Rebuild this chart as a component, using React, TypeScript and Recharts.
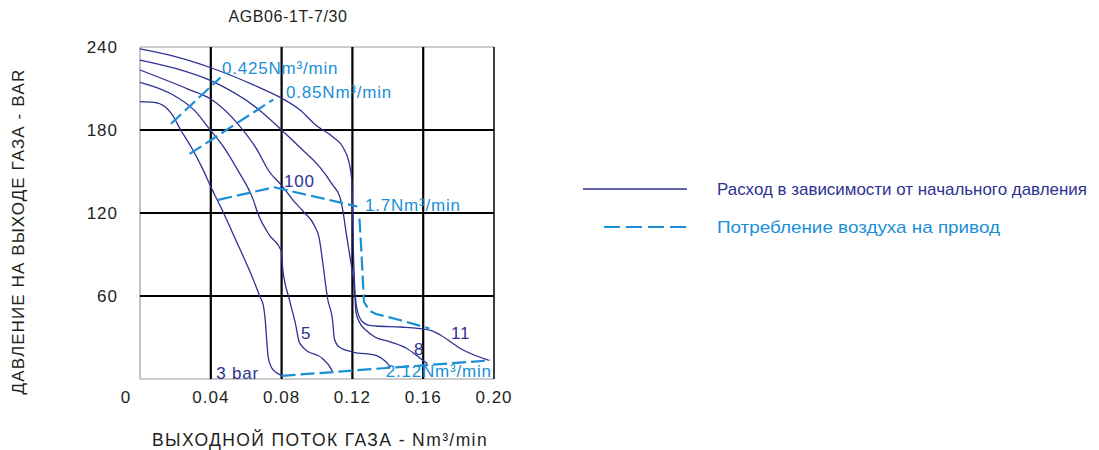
import React from "react";
import { LineChart, Line, XAxis, YAxis, ReferenceLine, ReferenceDot, Legend } from "recharts";

// inlet pressure curves (flow Nm3/min, outlet pressure bar)
const curve3 = [
  { x: 0, y: 200.5 }, { x: 0.008, y: 200 }, { x: 0.014, y: 197 }, { x: 0.018, y: 191.5 },
  { x: 0.023, y: 180 }, { x: 0.029, y: 167.5 }, { x: 0.035, y: 153 }, { x: 0.04, y: 139 },
  { x: 0.047, y: 120.5 }, { x: 0.055, y: 98 }, { x: 0.062, y: 78 }, { x: 0.0678, y: 59.5 },
  { x: 0.0697, y: 53 }, { x: 0.0708, y: 42 }, { x: 0.0716, y: 28 }, { x: 0.0724, y: 16 },
  { x: 0.0742, y: 8.5 }, { x: 0.0768, y: 4.8 }, { x: 0.0795, y: 2.8 }, { x: 0.082, y: 2.3 },
];
const curve5 = [
  { x: 0, y: 214.5 }, { x: 0.0177, y: 206 }, { x: 0.0309, y: 194 }, { x: 0.04, y: 179.5 },
  { x: 0.046, y: 170 }, { x: 0.0554, y: 150.6 }, { x: 0.064, y: 129.5 }, { x: 0.0665, y: 120 },
  { x: 0.0731, y: 104 }, { x: 0.0797, y: 93 }, { x: 0.0806, y: 80 }, { x: 0.0843, y: 58 },
  { x: 0.088, y: 39 }, { x: 0.0899, y: 27 }, { x: 0.0928, y: 22 }, { x: 0.1032, y: 14.7 },
  { x: 0.1079, y: 7.5 }, { x: 0.1088, y: 5 },
];
const curve100 = [
  { x: 0, y: 223.4 }, { x: 0.0271, y: 209.6 }, { x: 0.04, y: 202.4 }, { x: 0.0554, y: 184.3 },
  { x: 0.066, y: 166 }, { x: 0.073, y: 150 }, { x: 0.08, y: 140 }, { x: 0.0863, y: 129.5 },
  { x: 0.0925, y: 120.7 }, { x: 0.0985, y: 111 }, { x: 0.1013, y: 101.4 }, { x: 0.1032, y: 84.6 },
  { x: 0.106, y: 58 }, { x: 0.1089, y: 41.2 }, { x: 0.1098, y: 29.1 }, { x: 0.1126, y: 23.1 },
  { x: 0.1202, y: 19.5 }, { x: 0.1333, y: 17.1 }, { x: 0.1379, y: 13.5 }, { x: 0.1416, y: 8.7 },
];
const curve8 = [
  { x: 0, y: 230.6 }, { x: 0.02, y: 224.5 }, { x: 0.04, y: 215.7 }, { x: 0.0667, y: 195.2 },
  { x: 0.08, y: 180 }, { x: 0.0904, y: 167.4 }, { x: 0.1017, y: 153 }, { x: 0.109, y: 140 },
  { x: 0.1128, y: 132 }, { x: 0.1147, y: 121 }, { x: 0.1164, y: 106.3 }, { x: 0.1188, y: 87 },
  { x: 0.1205, y: 72.5 }, { x: 0.1215, y: 58 }, { x: 0.122, y: 48.4 }, { x: 0.1239, y: 41.2 },
  { x: 0.1277, y: 35.2 }, { x: 0.1327, y: 30.4 }, { x: 0.1416, y: 26.7 }, { x: 0.151, y: 21.9 },
  { x: 0.1586, y: 14.7 }, { x: 0.1623, y: 11.1 },
];
const curve11 = [
  { x: 0, y: 238.6 }, { x: 0.02, y: 233 }, { x: 0.04, y: 225 }, { x: 0.066, y: 211.5 },
  { x: 0.08, y: 203 }, { x: 0.0904, y: 194.5 }, { x: 0.0998, y: 183 }, { x: 0.109, y: 175 },
  { x: 0.1149, y: 167 }, { x: 0.1186, y: 153.5 }, { x: 0.1196, y: 144 }, { x: 0.1202, y: 118 },
  { x: 0.1205, y: 96.7 }, { x: 0.1211, y: 72.5 }, { x: 0.1216, y: 60.5 }, { x: 0.123, y: 48.4 },
  { x: 0.1258, y: 41.2 }, { x: 0.1295, y: 38.8 }, { x: 0.1333, y: 38.3 }, { x: 0.1473, y: 37.6 },
  { x: 0.1642, y: 35.2 }, { x: 0.1699, y: 31.6 }, { x: 0.1812, y: 21.9 }, { x: 0.1972, y: 13.5 },
];

// drive air consumption lines
const air0425 = [{ x: 0.0175, y: 184.5 }, { x: 0.0455, y: 218 }];
const air085 = [{ x: 0.028, y: 162.7 }, { x: 0.0753, y: 202 }];
const air17a = [{ x: 0.0442, y: 129.5 }, { x: 0.0758, y: 138.6 }, { x: 0.1228, y: 124.7 }];
const air17b = [
  { x: 0.124, y: 116 }, { x: 0.125, y: 94 }, { x: 0.1259, y: 72 }, { x: 0.1265, y: 56 },
  { x: 0.1295, y: 49.5 }, { x: 0.1333, y: 47 }, { x: 0.1473, y: 42.5 }, { x: 0.1635, y: 36.5 },
];
const air212 = [
  { x: 0.08, y: 2.3 }, { x: 0.109, y: 5 }, { x: 0.1333, y: 7.4 }, { x: 0.1605, y: 9.9 }, { x: 0.198, y: 13.5 },
];

const xTicks = [0, 0.04, 0.08, 0.12, 0.16, 0.2];
const xTickLabels = ["0", "0.04", "0.08", "0.12", "0.16", "0.20"];
const yTicks = [60, 120, 180, 240];
const gridX = [0.04, 0.08, 0.12, 0.16];
const gridY = [60, 120, 180];

const notes = [
  { x: 0.0463, y: 224.8, text: "0.425Nm³/min", kind: "air" },
  { x: 0.0825, y: 207.5, text: "0.85Nm³/min", kind: "air" },
  { x: 0.0814, y: 143.1, text: "100", kind: "curve" },
  { x: 0.1271, y: 125.4, text: "1.7Nm³/min", kind: "air" },
  { x: 0.091, y: 33.3, text: "5", kind: "curve" },
  { x: 0.1548, y: 22, text: "8", kind: "curve" },
  { x: 0.1757, y: 33.3, text: "11", kind: "curve" },
  { x: 0.0431, y: 4.3, text: "3 bar", kind: "curve" },
  { x: 0.1388, y: 5.4, text: "2.12Nm³/min", kind: "air" },
];

const legendItems = [
  { text: "Расход в зависимости от начального давления", kind: "curve" },
  { text: "Потребление воздуха на привод", kind: "air" },
];

const NAVY = "#2e3192";
const BLUE = "#1b8fd6";
const FONT = "'Liberation Sans', Arial, sans-serif";

const curves = [curve3, curve5, curve100, curve8, curve11];
const airLines = [air0425, air085, air17a, air17b, air212];

function XTick(props: any) {
  const { x, y, payload, index } = props;
  const dx = payload.value === 0 ? -14 : 0;
  return (
    <text x={x + dx} y={y + 24} textAnchor="middle" fill="#231f20" fontSize={17} letterSpacing={1} fontFamily={FONT}>
      {xTickLabels[index]}
    </text>
  );
}

function YTick(props: any) {
  const { x, y, payload } = props;
  return (
    <text x={x - 22} y={y + 6} textAnchor="end" fill="#231f20" fontSize={17} letterSpacing={1} fontFamily={FONT}>
      {payload.value}
    </text>
  );
}

function LegendBox() {
  const widths = [370, 283];
  return (
    <svg width={508} height={80} style={{ display: "block", overflow: "visible" }}>
      <line x1={0} x2={104} y1={11} y2={11} stroke={NAVY} strokeWidth={1.5} />
      <line x1={21} x2={104} y1={49} y2={49} stroke={BLUE} strokeWidth={2} strokeDasharray="16 6" />
      {legendItems.map((it, i) => (
        <text
          key={it.text} x={134} y={11 + i * 38} dy="0.35em" fontSize={17} fontFamily={FONT}
          fill={it.kind === "air" ? BLUE : NAVY} textLength={widths[i]} lengthAdjust="spacingAndGlyphs"
        >
          {it.text}
        </text>
      ))}
    </svg>
  );
}

export default function App() {
  return (
    <div style={{ position: "relative", width: 1083, height: 442, fontFamily: FONT }}>
      <div
        style={{
          position: "absolute", left: 280, top: 9, transform: "translate(-50%, -50%)",
          fontSize: 16, letterSpacing: 0.6, color: "#231f20", whiteSpace: "nowrap",
        }}
      >
        AGB06-1T-7/30
      </div>
      <div
        style={{
          position: "absolute", left: 312, top: 432, transform: "translate(-50%, -50%)",
          fontSize: 17.5, letterSpacing: 1.4, color: "#231f20", whiteSpace: "nowrap", lineHeight: "18px",
        }}
      >
        ВЫХОДНОЙ ПОТОК ГАЗА - Nm³/min
      </div>
      <LineChart width={1083} height={442} margin={{ top: 39, right: 597, bottom: 41, left: 72 }}>
        <XAxis
          type="number" dataKey="x" domain={[0, 0.2]} ticks={xTicks} height={30}
          axisLine={false} tickLine={false} tickSize={0} tickMargin={0} tick={<XTick />} interval={0}
        />
        <YAxis
          type="number" domain={[0, 240]} ticks={yTicks} width={60}
          axisLine={false} tickLine={false} tickSize={0} tickMargin={0} tick={<YTick />} interval={0}
          label={{
            content: () => (
              <text x={10} y={223.5} transform="rotate(-90 10 223.5)" textAnchor="middle" dy="0.35em" fill="#231f20" fontSize={17} letterSpacing={1.1} fontFamily={FONT}>
                ДАВЛЕНИЕ НА ВЫХОДЕ ГАЗА - BAR
              </text>
            ),
          }}
        />
        <ReferenceLine y={240} stroke="#9a9a9a" strokeWidth={1.2} />
        <ReferenceLine y={0} stroke="#9a9a9a" strokeWidth={1.2} />
        <ReferenceLine x={0} stroke="#9a9a9a" strokeWidth={1.2} />
        <ReferenceLine x={0.2} stroke="#000" strokeWidth={1.5} />
        {gridX.map((v) => (
          <ReferenceLine key={"gx" + v} x={v} stroke="#000" strokeWidth={2.2} />
        ))}
        {gridY.map((v) => (
          <ReferenceLine key={"gy" + v} y={v} stroke="#000" strokeWidth={2.2} />
        ))}
        {curves.map((d, i) => (
          <Line
            key={"c" + i} data={d} dataKey="y" type="monotone" stroke={NAVY} strokeWidth={1.3}
            dot={false} activeDot={false} isAnimationActive={false} legendType="none"
          />
        ))}
        {airLines.map((d, i) => (
          <Line
            key={"a" + i} data={d} dataKey="y" type="linear" stroke={BLUE} strokeWidth={2.2}
            strokeDasharray="14 5" dot={false} activeDot={false} isAnimationActive={false} legendType="none"
          />
        ))}
        {notes.map((n, i) => (
          <ReferenceDot
            key={"n" + i} x={n.x} y={n.y} r={0} fill="none" stroke="none"
            label={{
              content: (p: any) => (
                <text
                  x={p.viewBox.x} y={p.viewBox.y} dy="0.35em" textAnchor="start"
                  fill={n.kind === "air" ? BLUE : NAVY} fontSize={17} letterSpacing={0.8} fontFamily={FONT}
                >
                  {n.text}
                </text>
              ),
            }}
          />
        ))}
        <Legend
          layout="vertical" align="center" verticalAlign="middle" content={() => <LegendBox />}
          wrapperStyle={{ left: 575, top: 170, width: 508, height: 80 }}
        />
      </LineChart>
    </div>
  );
}
